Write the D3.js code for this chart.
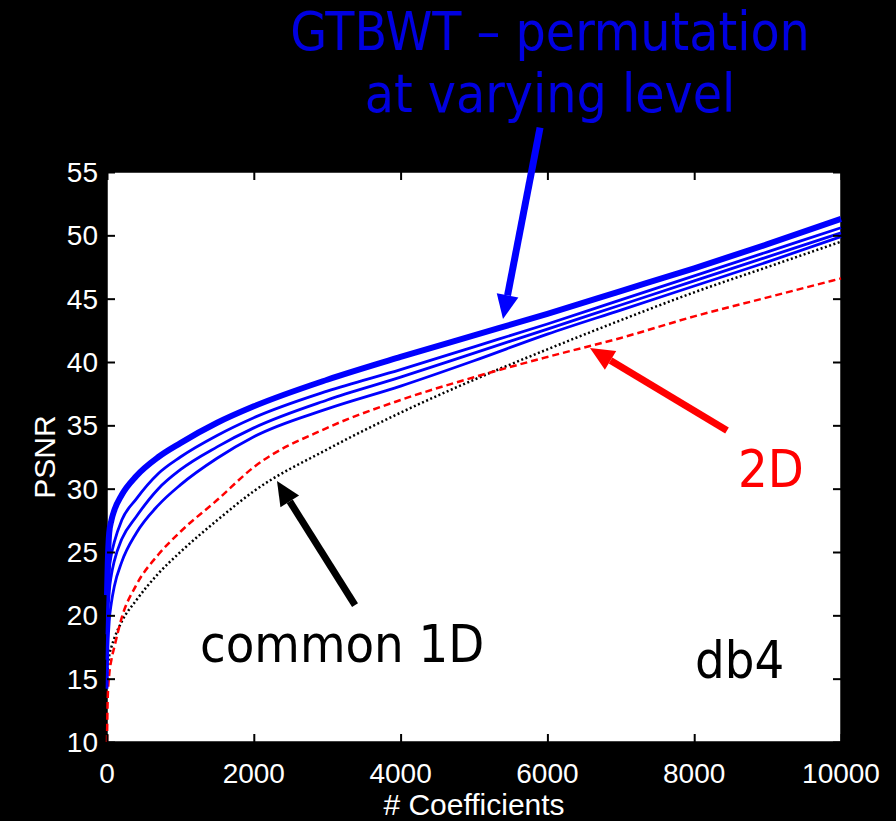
<!DOCTYPE html>
<html>
<head>
<meta charset="utf-8">
<script src="https://cdn.jsdelivr.net/npm/d3@7"></script>
<style>
	body { margin: 0; background: #000; }
	svg { display: block; }
	.tick-label { font-family: "Liberation Sans", Arial, sans-serif; font-size: 28px; fill: #fff; }
	.axis-title { font-family: "Liberation Sans", Arial, sans-serif; font-size: 30px; fill: #fff; }
	.note { font-family: "DejaVu Sans Condensed", "DejaVu Sans", sans-serif; font-stretch: condensed; }
</style>
</head>
<body>
<svg id="viz"></svg>
<script>
// Number of kept coefficients (x samples shared by every curve)
const coeffs = [0, 10, 30, 60, 100, 200, 400, 700, 1000, 1500, 2000, 3000, 4000, 5000, 6000, 7000, 8000, 9000, 10000];

// GTBWT curves, one per permutation level (thick one on top)
const gtbwtTop = [21.6, 24.0, 26.5, 27.5, 28.3, 29.5, 31.0, 32.5, 33.6, 35.2, 36.5, 38.6, 40.4, 42.1, 43.8, 45.6, 47.4, 49.3, 51.3];
const gtbwtL2  = [18.5, 21.0, 23.5, 24.8, 25.8, 27.5, 29.2, 31.2, 32.5, 34.2, 35.6, 37.7, 39.4, 41.2, 43.0, 44.9, 46.8, 48.7, 50.6];
const gtbwtL3  = [16.5, 19.5, 21.8, 23.2, 24.3, 26.0, 27.8, 30.0, 31.5, 33.3, 34.8, 37.0, 38.8, 40.7, 42.6, 44.5, 46.4, 48.3, 50.2];
const gtbwtL4  = [14.2, 17.0, 19.5, 21.0, 22.3, 24.2, 26.5, 28.7, 30.3, 32.4, 34.1, 36.3, 38.1, 40.1, 42.2, 44.1, 46.0, 47.9, 49.9];

// 2D wavelet transform
const twoD     = [10.0, 13.5, 15.3, 16.5, 17.5, 19.8, 22.4, 24.8, 26.6, 29.1, 31.7, 34.8, 37.0, 38.8, 40.4, 41.9, 43.6, 45.1, 46.6];
// common 1D wavelet transform
const common1D = [15.0, 15.8, 16.8, 17.5, 18.2, 19.5, 21.2, 23.3, 25.0, 27.5, 29.8, 33.1, 36.0, 38.6, 41.0, 43.3, 45.5, 47.5, 49.5];

const xTicks = [0, 2000, 4000, 6000, 8000, 10000];
const yTicks = [10, 15, 20, 25, 30, 35, 40, 45, 50, 55];

let translate = function(x, y) {
	return 'translate(' + x + ',' + y + ')';
};

const width = 896;
const height = 821;
const margin = { top: 172, right: 55, bottom: 79, left: 107 };
const plotWidth = width - margin.left - margin.right;
const plotHeight = height - margin.top - margin.bottom;

const svg = d3.select("svg#viz")
	.attr("width", width)
	.attr("height", height)
	.style("background", "#000");

const x = d3.scaleLinear().domain([0, 10000]).range([0, plotWidth]);
const y = d3.scaleLinear().domain([10, 55]).range([plotHeight, 0]);

const plot = svg.append("g").attr("id", "plot")
	.attr("transform", translate(margin.left, margin.top));

// white plotting box
plot.append("rect")
	.attr("width", plotWidth)
	.attr("height", plotHeight)
	.attr("fill", "#fff")
	.attr("stroke", "#000")
	.attr("stroke-width", 1.5);

// curves
const line = d3.line()
	.x(d => x(d[0]))
	.y(d => y(d[1]))
	.curve(d3.curveMonotoneX);

const series = [
	{ values: common1D, color: "#000", width: 2.5, dash: "2,2.5" },
	{ values: twoD, color: "#ff0000", width: 2.5, dash: "7,4" },
	{ values: gtbwtL4, color: "#0000ff", width: 2.8, dash: null },
	{ values: gtbwtL3, color: "#0000ff", width: 2.8, dash: null },
	{ values: gtbwtL2, color: "#0000ff", width: 2.8, dash: null },
	{ values: gtbwtTop, color: "#0000ff", width: 6, dash: null }
];

plot.append("g").attr("id", "curves")
	.selectAll("path")
	.data(series)
	.join("path")
	.attr("fill", "none")
	.attr("stroke", d => d.color)
	.attr("stroke-width", d => d.width)
	.attr("stroke-dasharray", d => d.dash)
	.attr("d", d => line(coeffs.map((c, i) => [c, d.values[i]])));

// axes: ticks point inwards on all four sides
const tickLen = 8;
plot.append("g").attr("id", "x-axis")
	.attr("transform", translate(0, plotHeight))
	.call(d3.axisBottom(x).tickValues(xTicks).tickSize(-tickLen).tickFormat(""))
	.call(g => g.select(".domain").remove());
plot.append("g")
	.call(d3.axisTop(x).tickValues(xTicks).tickSize(-tickLen).tickFormat(""))
	.call(g => g.select(".domain").remove());
plot.append("g").attr("id", "y-axis")
	.call(d3.axisLeft(y).tickValues(yTicks).tickSize(-tickLen).tickFormat(""))
	.call(g => g.select(".domain").remove());
plot.append("g")
	.attr("transform", translate(plotWidth, 0))
	.call(d3.axisRight(y).tickValues(yTicks).tickSize(-tickLen).tickFormat(""))
	.call(g => g.select(".domain").remove());
plot.selectAll(".tick line").attr("stroke", "#000").attr("stroke-width", 2);

// tick labels (white on black)
plot.append("g").selectAll("text")
	.data(xTicks)
	.join("text")
	.attr("class", "tick-label")
	.attr("x", d => x(d))
	.attr("y", plotHeight + 41)
	.attr("text-anchor", "middle")
	.text(d => d);

plot.append("g").selectAll("text")
	.data(yTicks)
	.join("text")
	.attr("class", "tick-label")
	.attr("x", -9)
	.attr("y", d => y(d) + 10)
	.attr("text-anchor", "end")
	.text(d => d);

// axis titles
plot.append("text")
	.attr("class", "axis-title")
	.attr("x", plotWidth / 2)
	.attr("y", plotHeight + 73)
	.attr("text-anchor", "middle")
	.text("# Coefficients");

plot.append("text")
	.attr("class", "axis-title")
	.attr("transform", translate(-52, plotHeight / 2) + " rotate(-90)")
	.attr("text-anchor", "middle")
	.text("PSNR");

// annotations with arrows, positioned in data units
function drawArrow(from, to, color) {
	const x0 = x(from[0]), y0 = y(from[1]);
	const x1 = x(to[0]), y1 = y(to[1]);
	const ang = Math.atan2(y1 - y0, x1 - x0);
	const headLen = 24, headW = 11;
	const bx = x1 - headLen * Math.cos(ang), by = y1 - headLen * Math.sin(ang);
	plot.append("line")
		.attr("x1", x0).attr("y1", y0)
		.attr("x2", bx).attr("y2", by)
		.attr("stroke", color)
		.attr("stroke-width", 7);
	const px = -Math.sin(ang), py = Math.cos(ang);
	plot.append("polygon")
		.attr("points", [
			[x1, y1],
			[bx + px * headW, by + py * headW],
			[bx - px * headW, by - py * headW]
		].map(p => p.join(",")).join(" "))
		.attr("fill", color);
}

drawArrow([5900, 58.5], [5395, 43.4], "#0000ff");
drawArrow([8447, 34.6], [6580, 41.1], "#ff0000");
drawArrow([3379, 20.8], [2316, 30.6], "#000");

plot.append("text")
	.attr("class", "note")
	.attr("x", x(1267)).attr("y", y(16.3))
	.attr("font-size", 52)
	.attr("fill", "#000")
	.text("common 1D");

plot.append("text")
	.attr("class", "note")
	.attr("x", x(8597)).attr("y", y(30.1))
	.attr("font-size", 52)
	.attr("fill", "#ff0000")
	.text("2D");

plot.append("text")
	.attr("class", "note")
	.attr("x", x(8011)).attr("y", y(15.05))
	.attr("font-size", 52)
	.attr("fill", "#000")
	.text("db4");

// title
const title = svg.append("text")
	.attr("class", "note")
	.attr("text-anchor", "middle")
	.attr("font-size", 53)
	.attr("fill", "#0000e0");
title.append("tspan").attr("x", 550).attr("y", 50).text("GTBWT \u2013 permutation");
title.append("tspan").attr("x", 550).attr("y", 112).text("at varying level");
</script>
</body>
</html>
